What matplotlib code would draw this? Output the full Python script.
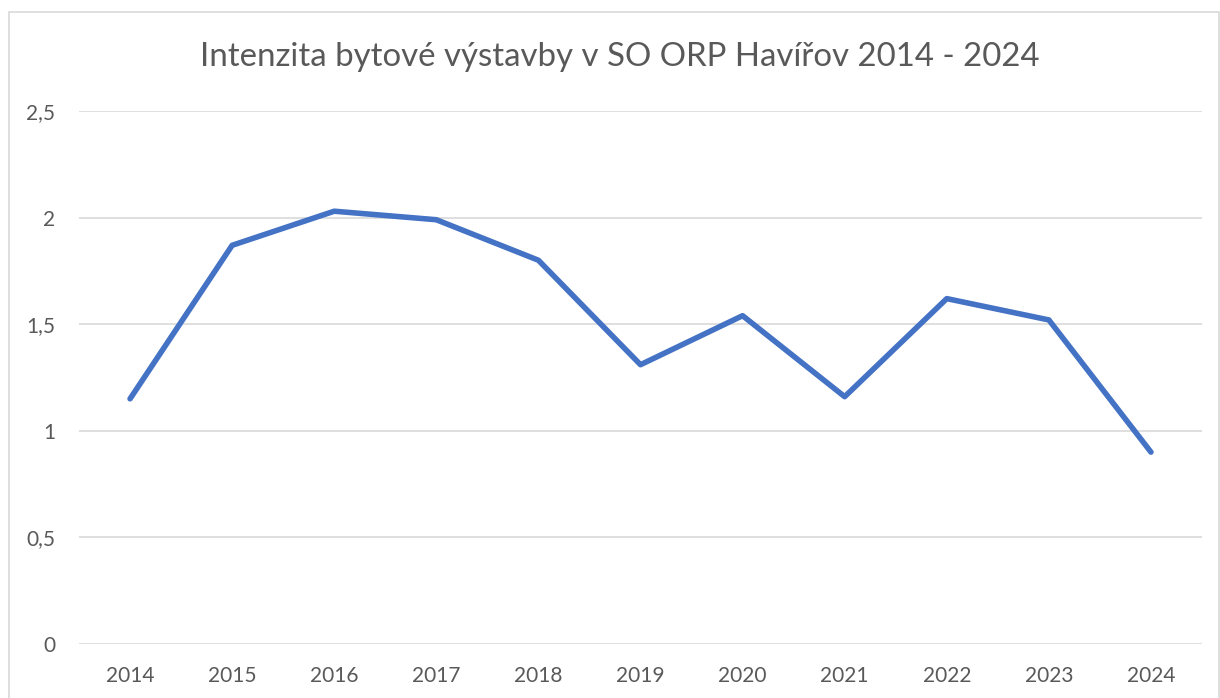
import matplotlib
matplotlib.use("Agg")
import matplotlib.pyplot as plt
from matplotlib.patches import Rectangle
from matplotlib.ticker import FuncFormatter

years = ["2014", "2015", "2016", "2017", "2018", "2019", "2020", "2021", "2022", "2023", "2024"]
values = [1.15, 1.87, 2.03, 1.99, 1.80, 1.31, 1.54, 1.16, 1.62, 1.52, 0.90]
yticks = [0, 0.5, 1, 1.5, 2, 2.5]
title = "Intenzita bytové výstavby v SO ORP Havířov 2014 - 2024"

plt.rcParams['font.family'] = ['Lato', 'DejaVu Sans']

W, H = 1220, 698
fig = plt.figure(figsize=(W / 100, H / 100), dpi=100)
fig.patch.set_facecolor("white")

# chart frame
fig.patches.append(Rectangle((9 / W, -0.01), (1219 - 9) / W, (H - 12) / H + 0.01,
                             transform=fig.transFigure, fill=False,
                             edgecolor="#d9d9d9", linewidth=1.2))

ax = fig.add_axes([79 / W, 54 / H, (1202 - 79) / W, (644 - 111) / H])
x = list(range(len(years)))
ax.plot(x, values, color="#4472C4", linewidth=4, solid_capstyle="round", solid_joinstyle="round", zorder=3)

ax.set_xlim(-0.5, len(years) - 0.5)
ax.set_ylim(0, 2.5)
ax.set_yticks(yticks)
ax.yaxis.set_major_formatter(FuncFormatter(lambda v, p: ("%g" % v).replace(".", ",")))
ax.set_xticks(x)
ax.set_xticklabels(years)

ax.grid(axis="y", color="#d9d9d9", linewidth=1.2, zorder=0)
for s in ax.spines.values():
    s.set_visible(False)
ax.tick_params(axis="both", length=0, labelsize=15, colors="#595959")
ax.tick_params(axis="y", pad=17)
ax.tick_params(axis="x", pad=16)

fig.text(620 / W, 1 - 57 / H, title, ha="center", va="center", fontsize=23.8, color="#595959")

fig.savefig("out.png", dpi=100)
